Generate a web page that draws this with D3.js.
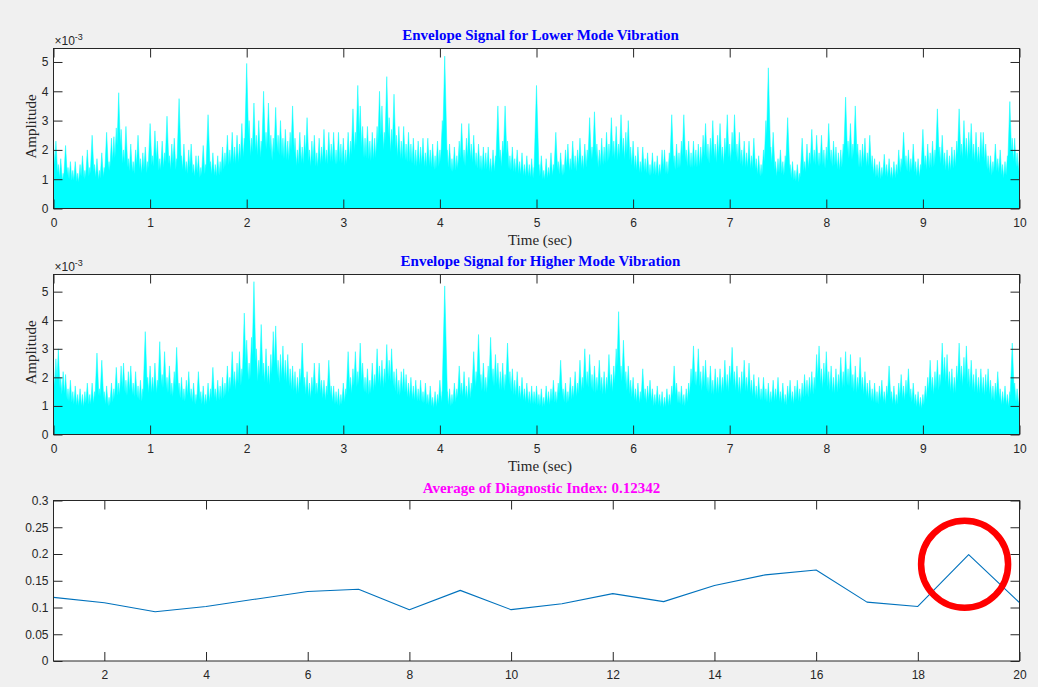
<!DOCTYPE html>
<html>
<head>
<meta charset="utf-8">
<script src="https://cdn.jsdelivr.net/npm/d3@7/dist/d3.min.js"></script>
<style>
  html, body { margin: 0; padding: 0; background: #f0f0f0; }
  svg { display: block; }
</style>
</head>
<body>
<svg id="fig" width="1038" height="687"></svg>
<script>
// ---- data -----------------------------------------------------------------
// Envelope samples (units of 1e-3), one every 0.025 s from 0 to 10 s.
const sampleStep = 0.025;

const lowerModeEnvelope = [
  2.2,2.3,1.5,1.7,1.2,2.15,1.4,1.6,1.3,1.6,1.2,1.5,1.8,1.3,2.0,1.4,2.5,1.5,1.7,1.3,
  1.9,1.4,2.6,1.6,2.4,2.45,2.75,3.95,2.7,2.0,2.8,1.7,2.2,1.6,2.0,2.5,1.7,1.9,2.1,1.6,
  2.9,1.8,2.65,2.3,1.7,2.3,1.9,3.15,1.8,2.2,2.4,1.7,3.75,1.8,2.2,1.6,2.0,2.2,1.5,1.8,
  1.8,1.4,2.15,1.5,3.2,1.6,1.9,1.5,1.8,1.6,2.1,1.9,2.5,2.0,2.6,2.1,2.5,2.2,2.9,2.4,
  4.95,3.0,2.4,3.6,2.5,3.0,2.3,4.0,2.6,3.6,2.5,2.4,3.45,2.5,3.0,2.4,2.7,2.3,2.6,3.5,
  2.4,2.0,2.6,2.1,2.5,3.1,2.0,2.3,2.5,1.9,2.4,2.1,2.7,2.0,2.6,2.2,2.6,2.0,2.6,2.2,
  2.4,2.0,2.6,2.3,3.4,2.6,4.2,3.5,2.8,2.4,2.8,2.3,2.6,2.4,2.8,4.0,3.5,2.6,4.5,3.1,
  2.7,3.9,2.5,2.8,2.3,2.8,2.2,2.6,2.2,2.4,2.0,2.3,2.1,2.4,1.9,2.4,2.0,2.2,1.8,2.3,
  2.0,3.0,5.2,2.0,2.2,1.7,2.1,1.8,2.3,2.9,2.0,2.4,2.9,2.2,2.5,1.9,2.2,1.8,2.1,1.9,
  2.1,1.7,2.0,1.8,3.5,2.0,2.3,3.5,2.3,1.8,2.1,1.7,2.0,1.6,1.9,1.5,1.8,1.5,1.7,1.4,
  4.2,1.5,1.8,1.3,1.7,1.4,1.9,1.5,2.6,1.6,1.9,1.5,2.0,2.2,1.7,2.3,1.8,2.0,2.4,1.8,
  2.2,2.0,3.1,2.1,3.3,2.2,2.0,2.4,2.1,2.6,2.2,3.1,2.3,2.8,2.2,3.2,2.4,2.6,3.0,2.1,
  2.3,1.8,2.1,1.6,2.1,1.7,1.9,1.5,1.9,1.6,1.8,1.5,2.0,2.0,1.6,1.9,3.2,1.8,2.2,1.9,
  2.3,3.2,2.0,2.3,1.9,2.3,2.0,2.2,2.1,2.5,2.9,2.2,2.4,3.0,2.2,2.5,2.9,2.1,2.4,3.2,
  2.2,2.6,3.2,2.2,2.6,2.0,2.3,1.9,2.3,1.8,2.4,1.7,1.8,1.5,2.0,3.0,4.8,2.1,2.6,1.6,
  1.7,2.0,1.6,1.8,3.1,1.5,1.6,1.3,1.5,1.2,2.4,1.6,2.2,1.9,2.7,2.0,2.5,1.9,2.5,2.0,
  2.1,2.9,2.0,2.3,2.1,1.9,2.0,2.2,3.8,2.3,2.9,2.2,3.5,2.2,2.0,2.2,2.4,1.9,2.5,1.8,
  1.7,1.5,1.6,1.4,1.85,1.5,1.7,1.4,1.6,1.5,2.0,1.7,2.6,1.8,2.0,1.7,2.2,1.6,1.7,1.5,
  2.7,1.8,2.2,1.9,2.3,2.0,3.4,2.1,2.5,1.9,2.0,1.8,2.1,2.0,2.3,3.4,2.2,3.0,2.4,2.6,
  2.9,2.2,2.6,2.1,2.6,2.6,2.2,1.8,1.8,1.6,2.2,1.7,2.0,1.5,1.6,1.8,3.65,2.4,2.4,1.9,
  1.9
];

const higherModeEnvelope = [
  2.4,2.65,3.0,2.0,2.2,2.1,1.6,1.9,1.5,1.7,1.4,1.6,1.4,1.5,1.8,1.4,1.8,1.5,2.85,1.6,
  2.6,1.5,1.7,1.3,1.8,1.6,2.35,1.8,2.4,2.5,1.9,2.2,2.4,1.8,2.2,1.7,1.9,1.6,3.6,2.0,
  2.4,2.0,2.5,1.9,3.25,2.1,2.9,2.0,2.4,1.8,2.2,3.05,1.8,2.0,1.6,1.9,2.2,1.6,1.8,1.4,
  2.2,1.5,1.7,1.4,1.8,1.6,2.35,1.6,1.9,1.7,2.0,1.8,2.4,2.0,2.9,2.2,2.5,2.9,2.3,4.25,
  3.3,2.5,3.4,5.35,3.0,2.6,3.85,2.5,3.0,2.4,2.8,3.6,3.8,2.6,2.8,3.1,2.6,2.8,2.3,2.4,
  2.2,2.0,2.3,3.2,2.0,2.2,1.8,2.0,2.5,1.8,2.5,1.9,1.9,1.7,2.6,1.7,1.7,1.5,1.6,1.4,
  1.8,1.6,2.9,2.0,2.3,2.9,2.2,3.2,2.5,2.0,2.3,1.9,2.5,2.1,3.0,2.4,2.6,2.3,3.15,2.6,
  3.0,2.2,2.3,1.9,2.2,2.3,2.1,1.8,2.0,1.7,1.9,1.6,1.9,1.5,1.8,1.4,1.7,1.3,1.5,1.4,
  1.9,1.5,5.2,1.5,1.6,1.4,1.8,1.6,2.4,1.8,2.2,1.7,2.0,1.8,2.9,2.2,3.5,2.1,2.5,2.0,
  2.4,3.4,2.3,2.8,2.5,2.2,2.5,2.1,3.2,2.2,2.3,1.9,2.2,1.7,2.0,1.6,1.8,1.5,1.7,1.5,
  1.7,1.4,1.6,1.3,1.7,1.5,1.6,1.9,1.5,1.8,2.6,1.6,1.8,1.5,2.0,1.7,2.2,1.8,2.6,2.0,
  3.0,2.2,2.8,2.1,2.4,2.0,2.6,2.0,2.2,2.0,2.8,2.1,2.4,3.0,4.3,2.4,3.3,2.2,2.4,1.9,
  2.0,1.6,1.8,1.5,2.3,1.6,1.7,1.9,1.6,1.4,1.7,1.4,1.5,1.3,1.6,1.4,1.7,2.4,1.8,1.5,
  1.7,1.4,1.6,1.8,2.3,3.1,2.2,3.0,2.2,2.4,2.6,2.0,2.4,1.9,2.3,2.0,2.3,2.0,2.6,2.1,
  2.4,3.05,2.2,2.4,2.0,2.2,2.6,2.0,2.5,1.9,2.1,1.7,2.0,1.6,2.0,1.6,1.8,1.5,1.9,1.6,
  2.0,1.5,1.8,1.4,1.7,1.9,1.5,1.7,1.9,1.6,1.8,2.1,1.9,2.0,2.2,2.0,2.8,3.1,2.3,2.5,
  2.9,2.2,2.4,2.0,2.3,2.1,2.7,2.2,2.9,2.3,2.8,2.1,2.4,2.0,2.7,2.0,2.2,1.8,1.9,1.6,
  1.8,1.5,1.7,1.9,1.5,1.7,2.4,1.5,1.7,1.4,1.8,2.1,1.7,1.9,2.3,1.6,1.8,1.4,1.5,1.3,
  1.4,1.7,2.0,2.6,2.0,2.2,2.6,2.1,3.2,2.7,2.8,2.2,2.3,2.0,2.4,3.2,2.4,2.7,3.1,2.3,
  2.6,2.1,2.3,2.0,2.3,2.0,2.1,2.3,1.9,1.7,1.8,2.2,1.6,1.5,1.7,1.4,1.5,3.2,1.8,1.6,
  1.5
];

const segmentNumbers = d3.range(1, 21);
const diagnosticIndex = [
  0.119, 0.109, 0.092, 0.102, 0.116, 0.130, 0.134, 0.096, 0.132, 0.096,
  0.107, 0.126, 0.111, 0.141, 0.161, 0.170, 0.110, 0.102, 0.199, 0.109
];
const diagnosticAverageText = "0.12342";

const timeTicks = d3.range(0, 11);
const amplitudeTicks = [0, 1, 2, 3, 4, 5];
const segmentTicks = [2, 4, 6, 8, 10, 12, 14, 16, 18, 20];
const indexTicks = [0, 0.05, 0.1, 0.15, 0.2, 0.25, 0.3];

// Segment flagged as abnormal (highlighted with a ring)
const flaggedSegment = { segment: 18.92, value: 0.181 };

// ---- layout / style -------------------------------------------------------
const svg = d3.select("#fig");
const left = 53.5, right = 1019.5;
const axisColor = "#262626";
const tickFont = "'Liberation Sans', Arial, Helvetica, sans-serif";
const serifFont = "'Liberation Serif', 'Times New Roman', serif";
const tickLen = 9;

svg.append("rect").attr("width", 1038).attr("height", 687).attr("fill", "#f0f0f0");

function drawFrame(g, x, y, top, bottom, xTicks, yTicks, xFmt, yFmt) {
  g.append("rect")
    .attr("x", left).attr("y", top)
    .attr("width", right - left).attr("height", bottom - top)
    .attr("fill", "#ffffff");
  return function finish() {
    const style = sel => {
      sel.select(".domain").remove();
      sel.selectAll("line").attr("stroke", axisColor).attr("stroke-width", 1);
      sel.selectAll("text")
        .attr("fill", axisColor)
        .style("font-family", tickFont)
        .style("font-size", "12px");
    };
    g.append("g").attr("transform", `translate(0,${bottom})`)
      .call(d3.axisBottom(x).tickValues(xTicks).tickFormat(xFmt)
        .tickSizeInner(-tickLen).tickSizeOuter(0).tickPadding(9.5))
      .call(style);
    g.append("g").attr("transform", `translate(0,${top})`)
      .call(d3.axisTop(x).tickValues(xTicks).tickFormat("")
        .tickSizeInner(-tickLen).tickSizeOuter(0))
      .call(style);
    g.append("g").attr("transform", `translate(${left},0)`)
      .call(d3.axisLeft(y).tickValues(yTicks).tickFormat(yFmt)
        .tickSizeInner(-tickLen).tickSizeOuter(0).tickPadding(5))
      .call(style);
    g.append("g").attr("transform", `translate(${right},0)`)
      .call(d3.axisRight(y).tickValues(yTicks).tickFormat("")
        .tickSizeInner(-tickLen).tickSizeOuter(0))
      .call(style);
    g.append("rect")
      .attr("x", left).attr("y", top)
      .attr("width", right - left).attr("height", bottom - top)
      .attr("fill", "none").attr("stroke", axisColor).attr("stroke-width", 1);
  };
}

function envelopePanel(samples, top, bottom, yMax, title, clipId) {
  const g = svg.append("g");
  const x = d3.scaleLinear().domain([0, 10]).range([left, right]);
  const y = d3.scaleLinear().domain([0, yMax]).range([bottom, top]);
  const finish = drawFrame(g, x, y, top, bottom, timeTicks, amplitudeTicks,
    d3.format("d"), d3.format("d"));

  g.append("clipPath").attr("id", clipId)
    .append("rect").attr("x", left).attr("y", top)
    .attr("width", right - left).attr("height", bottom - top);

  // each envelope sample is drawn as a narrow spike rising from the baseline;
  // neighbouring spikes overlap so the lower part reads as a dense band
  const half = 1.5 * (x(sampleStep) - x(0));
  const p = d3.path();
  samples.forEach((v, i) => {
    const cx = x(i * sampleStep);
    p.moveTo(cx - half, y(0));
    p.lineTo(cx, y(v));
    p.lineTo(cx + half, y(0));
    p.closePath();
  });
  g.append("path")
    .attr("d", p.toString())
    .attr("fill", "#00ffff")
    .attr("stroke", "#00ffff")
    .attr("stroke-width", 0.5)
    .attr("clip-path", `url(#${clipId})`);

  finish();

  // exponent marker
  const ex = g.append("text")
    .attr("x", left + 1).attr("y", top - 4)
    .attr("fill", axisColor)
    .style("font-family", tickFont).style("font-size", "12px");
  ex.append("tspan").text("\u00d710");
  ex.append("tspan").attr("dy", -5).style("font-size", "9px").text("-3");

  g.append("text")
    .attr("x", (left + right) / 2 + 4).attr("y", top - 9)
    .attr("text-anchor", "middle")
    .attr("fill", "#0000ff")
    .style("font-family", serifFont).style("font-size", "15px").style("font-weight", "bold")
    .text(title);

  g.append("text")
    .attr("x", 540).attr("y", bottom + 36)
    .attr("text-anchor", "middle")
    .attr("fill", axisColor)
    .style("font-family", serifFont).style("font-size", "15px")
    .text("Time (sec)");

  g.append("text")
    .attr("transform", `translate(36,${(top + bottom) / 2 - 2}) rotate(-90)`)
    .attr("text-anchor", "middle")
    .attr("fill", axisColor)
    .style("font-family", serifFont).style("font-size", "15px")
    .text("Amplitude");
}

envelopePanel(lowerModeEnvelope, 48.5, 208.5, 5.46,
  "Envelope Signal for Lower Mode Vibration", "clipLower");
envelopePanel(higherModeEnvelope, 274.5, 434.5, 5.6,
  "Envelope Signal for Higher Mode Vibration", "clipHigher");

// ---- diagnostic index panel ----------------------------------------------
(function () {
  const top = 500.5, bottom = 661;
  const g = svg.append("g");
  const x = d3.scaleLinear().domain([1, 20]).range([left, right]);
  const y = d3.scaleLinear().domain([0, 0.3]).range([bottom, top]);
  const finish = drawFrame(g, x, y, top, bottom, segmentTicks, indexTicks,
    d3.format("d"), d => (d === 0 ? "0" : d3.format("")(+d.toFixed(2))));

  const line = d3.line().x((d, i) => x(segmentNumbers[i])).y(d => y(d));
  g.append("path")
    .datum(diagnosticIndex)
    .attr("d", line)
    .attr("fill", "none")
    .attr("stroke", "#0072bd")
    .attr("stroke-width", 1.1)
    .attr("stroke-linejoin", "round");

  finish();

  g.append("circle")
    .attr("cx", x(flaggedSegment.segment))
    .attr("cy", y(flaggedSegment.value))
    .attr("r", 43.5)
    .attr("fill", "none")
    .attr("stroke", "#ff0000")
    .attr("stroke-width", 6.5);

  g.append("text")
    .attr("x", (left + right) / 2 + 5).attr("y", top - 8)
    .attr("text-anchor", "middle")
    .attr("fill", "#ff00ff")
    .style("font-family", serifFont).style("font-size", "15px").style("font-weight", "bold")
    .text("Average of Diagnostic Index: " + diagnosticAverageText);
})();
</script>
</body>
</html>
